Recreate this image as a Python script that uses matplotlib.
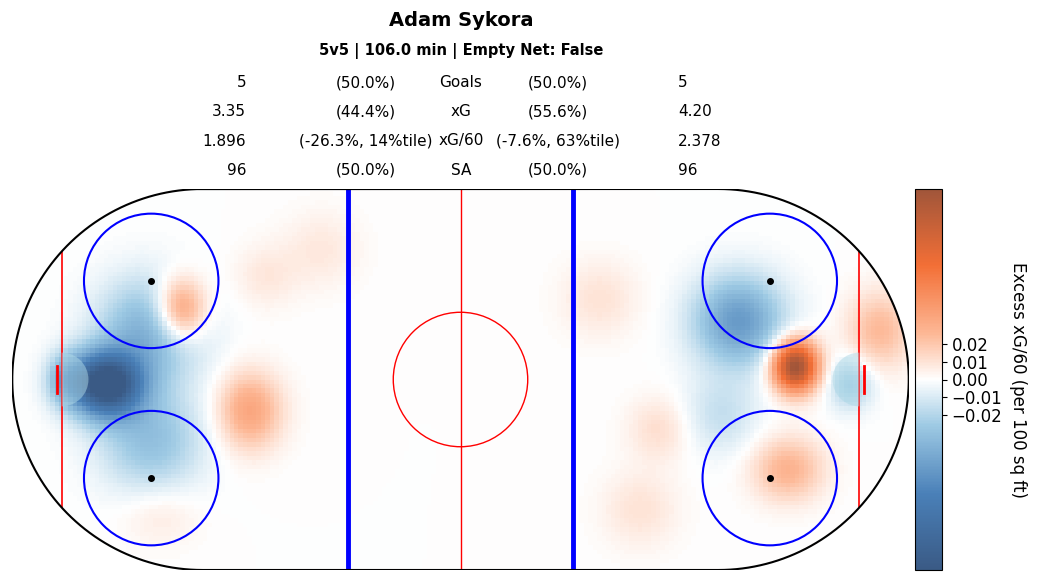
import numpy as np
import matplotlib
matplotlib.use("Agg")
import matplotlib.pyplot as plt
from matplotlib.colors import LinearSegmentedColormap
from matplotlib.patches import Circle, PathPatch, Wedge
from matplotlib.path import Path

title = "Adam Sykora"
subtitle = "5v5 | 106.0 min | Empty Net: False"
row_labels = ["Goals", "xG", "xG/60", "SA"]
left_vals = ["5", "3.35", "1.896", "96"]
left_pct = ["(50.0%)", "(44.4%)", "(-26.3%, 14%tile)", "(50.0%)"]
right_pct = ["(50.0%)", "(55.6%)", "(-7.6%, 63%tile)", "(50.0%)"]
right_vals = ["5", "4.20", "2.378", "96"]

# heat blobs: x (ft), y (ft), amplitude, sigma x, sigma y
blob_x = [-79, -69, -69, -62.5, -47, -31, -43.5, -67, 74.6, 62, 87, 93.5, 73, 40, 44.5, 31, 58, -88]
blob_y = [-1, 11, -13.5, 15.5, -7, 29, 23, -30, 3, 13, -1, 11, -20, -29, -11, 18, -8, 0]
blob_a = [-0.12, -0.04, -0.03, 0.05, 0.035, 0.008, 0.008, 0.008, 0.11, -0.05, -0.025, 0.025, 0.028, 0.01, 0.012, 0.01, -0.015, -0.03]
blob_sx = [5.5, 8, 8, 4, 5, 6, 5, 6, 3.5, 7, 3.5, 5, 5.5, 6, 5, 6, 6, 3]
blob_sy = [5, 8, 8, 5, 6, 6, 5, 5, 4, 7, 4, 6, 5, 6, 5, 6, 6, 4]

vmin, vmax = -0.107, 0.107
cbar_ticks = [-0.02, -0.01, 0.0, 0.01, 0.02]

cmap = LinearSegmentedColormap.from_list("xg", [
    (0.0, "#3a5a85"), (0.2, "#4a80b8"), (0.38, "#9ecae4"), (0.5, "#ffffff"),
    (0.62, "#fdb896"), (0.8, "#f36f36"), (1.0, "#a0553a")])

fig = plt.figure(figsize=(10.41, 5.82), dpi=100)
ax = fig.add_axes([12/1041, 12/582, 897/1041, 381/582])
ax.set_xlim(-100, 100); ax.set_ylim(-42.5, 42.5)
ax.set_aspect("equal"); ax.axis("off")

xs = np.arange(-100, 100.01, 1.0)
ys = np.arange(-42.5, 42.51, 1.0)
X, Y = np.meshgrid(xs, ys)
Z = np.zeros_like(X)
for bx, by, a, sx, sy in zip(blob_x, blob_y, blob_a, blob_sx, blob_sy):
    Z += a * np.exp(-((X - bx) ** 2 / (2 * sx ** 2) + (Y - by) ** 2 / (2 * sy ** 2)))

R = 42.5; cx = 57.5
t1 = np.linspace(-np.pi/2, np.pi/2, 100)
t2 = np.linspace(np.pi/2, 3*np.pi/2, 100)
px = np.concatenate([cx + R*np.cos(t1), -cx + R*np.cos(t2)])
py = np.concatenate([R*np.sin(t1), R*np.sin(t2)])
verts = np.column_stack([px, py])
verts = np.vstack([verts, verts[0]])
rink = Path(verts)

im = ax.imshow(Z, extent=[-100.5, 100.5, -43, 43], origin="lower", cmap=cmap,
               vmin=vmin, vmax=vmax, interpolation="nearest", zorder=1)
clip = PathPatch(rink, transform=ax.transData, facecolor="none", edgecolor="none")
ax.add_patch(clip)
im.set_clip_path(clip)
ax.add_patch(PathPatch(rink, facecolor="none", edgecolor="black", lw=1.5, zorder=5))

ax.plot([0, 0], [-42.5, 42.5], color="red", lw=1, zorder=3)
for xb in (-25, 25):
    ax.plot([xb, xb], [-42.5, 42.5], color="blue", lw=3.5, zorder=3)
gy = np.sqrt(R**2 - (89 - cx)**2)
for xg in (-89, 89):
    ax.plot([xg, xg], [-gy, gy], color="red", lw=1.2, zorder=3)
for xg in (-90, 90):
    ax.plot([xg, xg], [-3, 3], color="red", lw=2, zorder=4)
ax.add_patch(Wedge((-89, 0), 6, -90, 90, facecolor="#add8e6", alpha=0.5, zorder=3))
ax.add_patch(Wedge((89, 0), 6, 90, 270, facecolor="#add8e6", alpha=0.5, zorder=3))
ax.add_patch(Circle((0, 0), 15, fill=False, edgecolor="red", lw=1, zorder=3))
for fx in (-69, 69):
    for fy in (-22, 22):
        ax.add_patch(Circle((fx, fy), 15, fill=False, edgecolor="blue", lw=1.5, zorder=3))
        ax.plot(fx, fy, "o", color="black", ms=4, zorder=4)

cax = fig.add_axes([915/1041, 12/582, 27/1041, 381/582])
cb = fig.colorbar(im, cax=cax, ticks=cbar_ticks)
cb.ax.tick_params(labelsize=12)
cb.set_label("Excess xG/60 (per 100 sq ft)", rotation=270, labelpad=18, fontsize=12)

fig.text(461/1041, 1 - 20/582, title, ha="center", va="center", fontsize=14, fontweight="bold")
fig.text(461/1041, 1 - 51/582, subtitle, ha="center", va="center", fontsize=10.5, fontweight="bold")
for i, yp in enumerate([83, 112, 141, 170]):
    yy = 1 - yp/582
    fig.text(246/1041, yy, left_vals[i], ha="right", va="center", fontsize=11)
    fig.text(366/1041, yy, left_pct[i], ha="center", va="center", fontsize=11)
    fig.text(461/1041, yy, row_labels[i], ha="center", va="center", fontsize=11)
    fig.text(558/1041, yy, right_pct[i], ha="center", va="center", fontsize=11)
    fig.text(678/1041, yy, right_vals[i], ha="left", va="center", fontsize=11)

fig.savefig("out.png", dpi=100)
